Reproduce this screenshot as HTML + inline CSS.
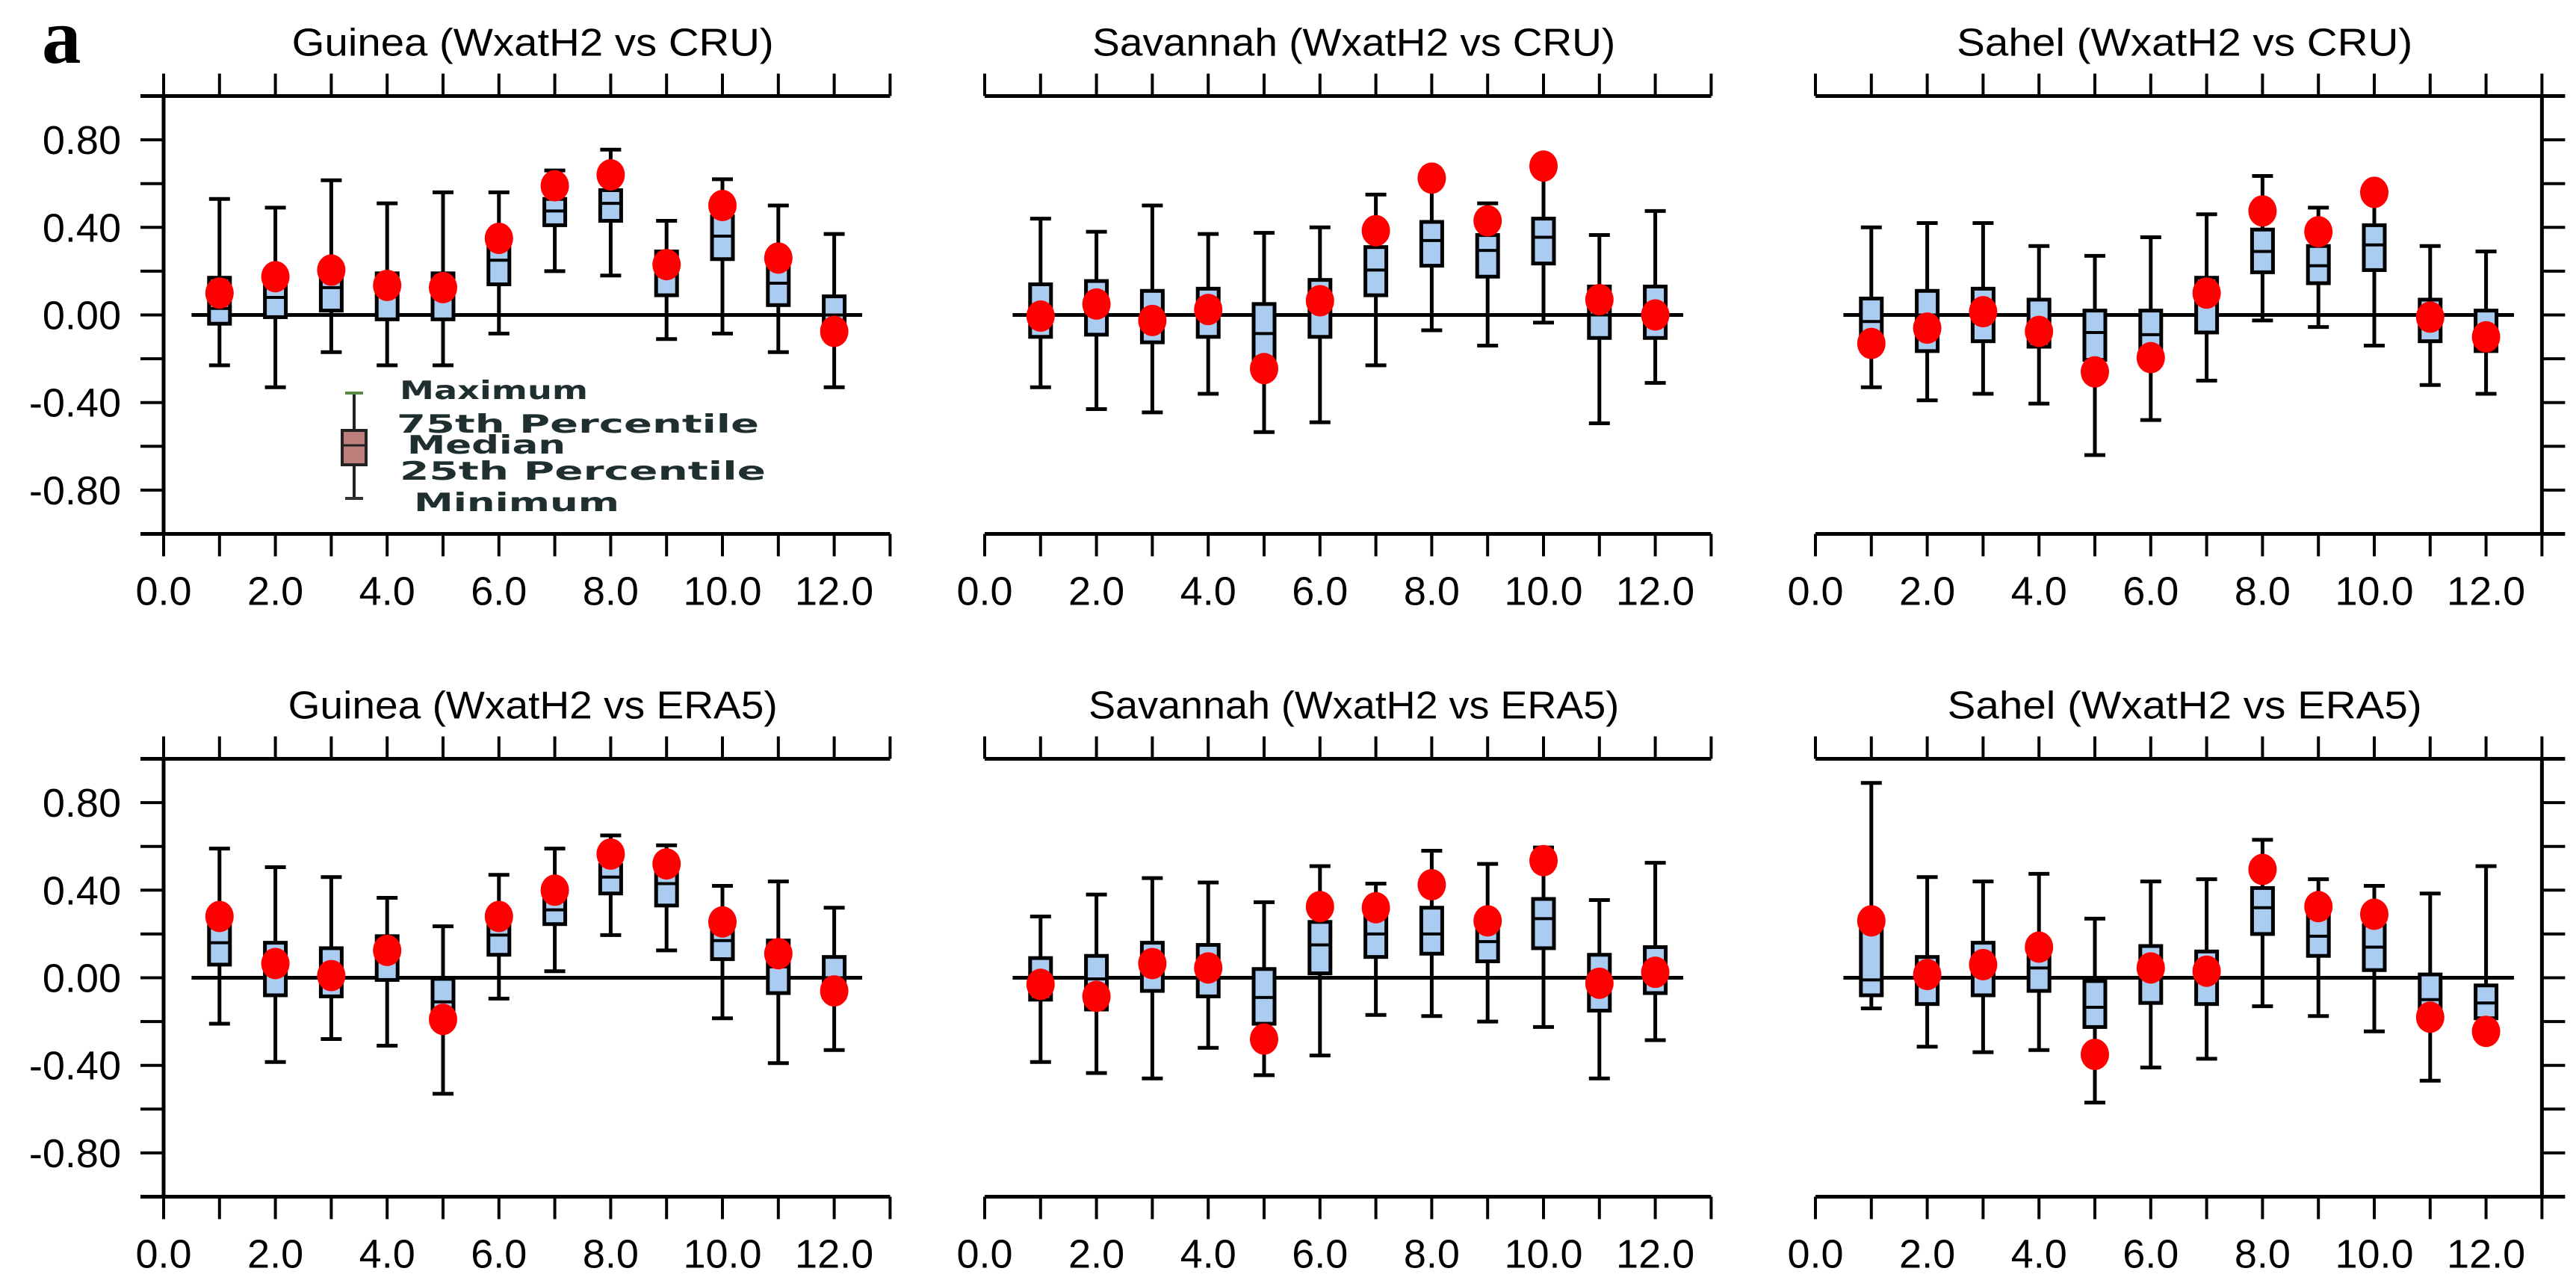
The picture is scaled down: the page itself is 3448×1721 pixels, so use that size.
<!DOCTYPE html>
<html><head><meta charset="utf-8"><style>
html,body{margin:0;padding:0;background:#fff;}
svg{display:block;}
</style></head><body>
<svg id="chart" width="3448" height="1721" viewBox="0 0 3448 1721" xmlns="http://www.w3.org/2000/svg" style="font-family:'Liberation Sans',sans-serif">
<text x="56" y="84" style="font-family:'Liberation Serif',serif;font-weight:bold;font-size:105px">a</text>
<g id="legend">
 <line x1="474" y1="526" x2="474" y2="667" stroke="#222" stroke-width="4"/>
 <line x1="462" y1="526" x2="486" y2="526" stroke="#5a8a4a" stroke-width="4"/>
 <line x1="462" y1="667" x2="486" y2="667" stroke="#333" stroke-width="4"/>
 <rect x="458" y="576" width="32" height="46" fill="#bc7f7c" stroke="#222" stroke-width="4"/>
 <line x1="458" y1="596" x2="490" y2="596" stroke="#222" stroke-width="3"/>
 <g style="font-family:'DejaVu Sans',sans-serif;font-weight:bold;font-size:34px" fill="#1f2f2f">
  <text x="535" y="534" textLength="252" lengthAdjust="spacingAndGlyphs">Maximum</text>
  <text x="531" y="579" textLength="485" lengthAdjust="spacingAndGlyphs">75th Percentile</text>
  <text x="545" y="607" textLength="212" lengthAdjust="spacingAndGlyphs">Median</text>
  <text x="535" y="642" textLength="490" lengthAdjust="spacingAndGlyphs">25th Percentile</text>
  <text x="554" y="684" textLength="275" lengthAdjust="spacingAndGlyphs">Minimum</text>
 </g>
</g>
</svg>
<script>
// ---- data (month 1..12) ----
const months = [1,2,3,4,5,6,7,8,9,10,11,12];
const titles = ["Guinea (WxatH2 vs CRU)","Savannah (WxatH2 vs CRU)","Sahel (WxatH2 vs CRU)",
                "Guinea (WxatH2 vs ERA5)","Savannah (WxatH2 vs ERA5)","Sahel (WxatH2 vs ERA5)"];
const yTickLabels = ["0.80","0.40","0.00","-0.40","-0.80"];
const yTickValues = [0.8,0.4,0,-0.4,-0.8];
const xTickLabels = ["0.0","2.0","4.0","6.0","8.0","10.0","12.0"];
const xTickValues = [0,2,4,6,8,10,12];

const guineaCruMax = [0.53,0.49,0.615,0.51,0.56,0.56,0.66,0.755,0.43,0.62,0.50,0.37];
const guineaCruQ3  = [0.17,0.14,0.18,0.19,0.19,0.31,0.53,0.57,0.29,0.45,0.245,0.085];
const guineaCruMed = [0.03,0.08,0.125,0.09,0.09,0.25,0.475,0.51,0.19,0.36,0.145,0.0];
const guineaCruQ1  = [-0.04,-0.01,0.02,-0.02,-0.02,0.14,0.41,0.43,0.09,0.255,0.045,-0.095];
const guineaCruMin = [-0.23,-0.33,-0.17,-0.23,-0.23,-0.085,0.20,0.18,-0.11,-0.085,-0.17,-0.33];
const guineaCruDot = [0.10,0.175,0.205,0.135,0.125,0.35,0.59,0.64,0.23,0.50,0.26,-0.075];

const savCruMax = [0.44,0.38,0.50,0.37,0.375,0.40,0.55,0.62,0.51,0.68,0.365,0.475];
const savCruQ3  = [0.14,0.155,0.11,0.12,0.05,0.16,0.31,0.425,0.365,0.44,0.13,0.13];
const savCruMed = [0.01,0.05,0.0,0.03,-0.085,0.06,0.205,0.34,0.295,0.355,0.0,0.01];
const savCruQ1  = [-0.10,-0.09,-0.125,-0.10,-0.20,-0.10,0.09,0.225,0.175,0.235,-0.105,-0.105];
const savCruMin = [-0.33,-0.43,-0.445,-0.36,-0.535,-0.49,-0.23,-0.07,-0.14,-0.035,-0.495,-0.31];
const savCruDot = [-0.005,0.05,-0.025,0.025,-0.245,0.065,0.385,0.625,0.43,0.68,0.07,0.0];

const sahelCruMax = [0.40,0.42,0.42,0.315,0.27,0.355,0.46,0.635,0.49,0.56,0.315,0.29];
const sahelCruQ3  = [0.075,0.11,0.12,0.07,0.02,0.02,0.17,0.39,0.315,0.41,0.07,0.02];
const sahelCruMed = [-0.03,0.0,0.02,-0.03,-0.08,-0.09,0.10,0.29,0.225,0.32,-0.02,-0.08];
const sahelCruQ1  = [-0.10,-0.165,-0.12,-0.145,-0.205,-0.18,-0.08,0.195,0.145,0.205,-0.12,-0.165];
const sahelCruMin = [-0.33,-0.39,-0.36,-0.405,-0.64,-0.48,-0.30,-0.025,-0.055,-0.14,-0.32,-0.36];
const sahelCruDot = [-0.13,-0.06,0.015,-0.075,-0.26,-0.195,0.10,0.475,0.38,0.56,-0.01,-0.10];

const guineaEraMax = [0.59,0.505,0.46,0.365,0.235,0.47,0.59,0.65,0.605,0.42,0.44,0.32];
const guineaEraQ3  = [0.245,0.16,0.135,0.19,-0.005,0.25,0.37,0.515,0.49,0.22,0.17,0.095];
const guineaEraMed = [0.16,0.05,0.0,0.10,-0.11,0.195,0.31,0.46,0.43,0.17,0.05,0.0];
const guineaEraQ1  = [0.06,-0.08,-0.085,-0.01,-0.17,0.105,0.245,0.385,0.33,0.085,-0.07,-0.09];
const guineaEraMin = [-0.21,-0.385,-0.28,-0.31,-0.53,-0.095,0.03,0.195,0.125,-0.185,-0.39,-0.33];
const guineaEraDot = [0.28,0.065,0.01,0.125,-0.19,0.28,0.40,0.565,0.52,0.255,0.11,-0.06];

const savEraMax = [0.28,0.38,0.455,0.435,0.345,0.51,0.43,0.58,0.52,0.595,0.355,0.525];
const savEraQ3  = [0.09,0.10,0.16,0.15,0.04,0.255,0.29,0.32,0.23,0.36,0.105,0.14];
const savEraMed = [0.0,-0.005,0.06,0.05,-0.09,0.15,0.20,0.20,0.165,0.27,0.0,0.05];
const savEraQ1  = [-0.10,-0.145,-0.06,-0.085,-0.21,0.02,0.095,0.11,0.075,0.135,-0.15,-0.07];
const savEraMin = [-0.385,-0.435,-0.46,-0.32,-0.445,-0.355,-0.17,-0.175,-0.20,-0.225,-0.46,-0.285];
const savEraDot = [-0.03,-0.085,0.065,0.045,-0.28,0.325,0.32,0.425,0.26,0.535,-0.025,0.025];

const sahelEraMax = [0.89,0.46,0.44,0.475,0.27,0.44,0.45,0.63,0.45,0.42,0.385,0.51];
const sahelEraQ3  = [0.23,0.095,0.16,0.14,-0.015,0.145,0.12,0.41,0.30,0.24,0.015,-0.035];
const sahelEraMed = [-0.01,0.0,0.05,0.045,-0.135,0.05,0.03,0.32,0.19,0.14,-0.10,-0.115];
const sahelEraQ1  = [-0.08,-0.12,-0.08,-0.06,-0.225,-0.115,-0.12,0.20,0.10,0.035,-0.145,-0.185];
const sahelEraMin = [-0.14,-0.315,-0.34,-0.33,-0.57,-0.41,-0.37,-0.13,-0.175,-0.245,-0.47,-0.23];
const sahelEraDot = [0.26,0.015,0.06,0.14,-0.35,0.045,0.03,0.495,0.325,0.29,-0.18,-0.245];

const panelMax = [guineaCruMax,savCruMax,sahelCruMax,guineaEraMax,savEraMax,sahelEraMax];
const panelQ3  = [guineaCruQ3,savCruQ3,sahelCruQ3,guineaEraQ3,savEraQ3,sahelEraQ3];
const panelMed = [guineaCruMed,savCruMed,sahelCruMed,guineaEraMed,savEraMed,sahelEraMed];
const panelQ1  = [guineaCruQ1,savCruQ1,sahelCruQ1,guineaEraQ1,savEraQ1,sahelEraQ1];
const panelMin = [guineaCruMin,savCruMin,sahelCruMin,guineaEraMin,savEraMin,sahelEraMin];
const panelDot = [guineaCruDot,savCruDot,sahelCruDot,guineaEraDot,savEraDot,sahelEraDot];

// ---- layout ----
const NS = "http://www.w3.org/2000/svg";
const svg = document.getElementById("chart");
const legend = document.getElementById("legend");
const colX0 = [219,1318,2430];
const rowTop = [128.5,1015.5];
const plotH = 586;
const unitX = 74.8;
const SW = 5;
const titleW = [645,700,610,655,710,635];

function mk(tag, attrs, parent){
  const e = document.createElementNS(NS, tag);
  for (const k in attrs) e.setAttribute(k, attrs[k]);
  (parent||svg).appendChild(e);
  return e;
}

for (let p = 0; p < 6; p++) {
  const col = p % 3, row = Math.floor(p / 3);
  const x0 = colX0[col], top = rowTop[row], bot = top + plotH;
  const sx = v => x0 + v * unitX;
  const sy = v => top + (1 - v) / 2 * plotH;
  const g = mk("g", {});
  
  

  const t = mk("text", {x: sx(6.5) + 8, y: top - 54, "text-anchor": "middle", "font-size": 52, textLength: titleW[p], lengthAdjust: "spacingAndGlyphs"}, g);
  t.textContent = titles[p];
  
  

  const lx = col === 0 ? x0 - 31 : x0;
  const rx = col === 2 ? sx(13) + 31 : sx(13);
  const ta = mk("line", {x1: lx, y1: top, x2: rx, y2: top, stroke: "#000", "stroke-width": SW}, g);
  
  
  const ba = mk("line", {x1: lx, y1: bot, x2: rx, y2: bot, stroke: "#000", "stroke-width": SW}, g);
  
  
  for (let k = 0; k <= 13; k++) {
    mk("line", {x1: sx(k), y1: top, x2: sx(k), y2: top - 30, stroke: "#000", "stroke-width": 4}, g);
    mk("line", {x1: sx(k), y1: bot, x2: sx(k), y2: bot + 30, stroke: "#000", "stroke-width": 4}, g);
  }
  xTickValues.forEach((v, i) => {
    const tl = mk("text", {x: sx(v), y: bot + 95, "text-anchor": "middle", "font-size": 54}, g);
    tl.textContent = xTickLabels[i];
    
    
  });
  if (col === 0 || col === 2) {
    const ax = col === 0 ? x0 : sx(13);
    const dir = col === 0 ? -1 : 1;
    const va = mk("line", {x1: ax, y1: top, x2: ax, y2: bot, stroke: "#000", "stroke-width": SW}, g);
    
    
    for (let k = -4; k <= 4; k++) {
      const v = k * 0.2;
      mk("line", {x1: ax, y1: sy(v), x2: ax + dir * 31, y2: sy(v), stroke: "#000", "stroke-width": 4}, g);
    }
    if (col === 0) {
      yTickValues.forEach((v, i) => {
        const yl = mk("text", {x: x0 - 57, y: sy(v) + 19, "text-anchor": "end", "font-size": 54}, g);
        yl.textContent = yTickLabels[i];
        
        
      });
    }
  }
  const zl = mk("line", {x1: sx(0.5), y1: sy(0), x2: sx(12.5), y2: sy(0), stroke: "#000", "stroke-width": SW}, g);
  
  

  months.forEach((m, i) => {
    const cx = sx(m), hw = 14;
    const bg = mk("g", {}, g);
    
    
    mk("line", {x1: cx, y1: sy(panelMax[p][i]), x2: cx, y2: sy(panelMin[p][i]), stroke: "#000", "stroke-width": SW}, bg);
    mk("line", {x1: cx - hw, y1: sy(panelMax[p][i]), x2: cx + hw, y2: sy(panelMax[p][i]), stroke: "#000", "stroke-width": SW}, bg);
    mk("line", {x1: cx - hw, y1: sy(panelMin[p][i]), x2: cx + hw, y2: sy(panelMin[p][i]), stroke: "#000", "stroke-width": SW}, bg);
    const yq3 = sy(panelQ3[p][i]), yq1 = sy(panelQ1[p][i]);
    mk("rect", {x: cx - hw, y: yq3, width: 2 * hw, height: yq1 - yq3, fill: "#a9ccf0", stroke: "#000", "stroke-width": SW}, bg);
    mk("line", {x1: cx - hw, y1: sy(panelMed[p][i]), x2: cx + hw, y2: sy(panelMed[p][i]), stroke: "#000", "stroke-width": 4}, bg);
  });
  months.forEach((m, i) => {
    const d = mk("ellipse", {cx: sx(m), cy: sy(panelDot[p][i]), rx: 19, ry: 21, fill: "#ff0000"}, g);
    
    
  });
}
svg.appendChild(legend);
</script>
</body></html>
